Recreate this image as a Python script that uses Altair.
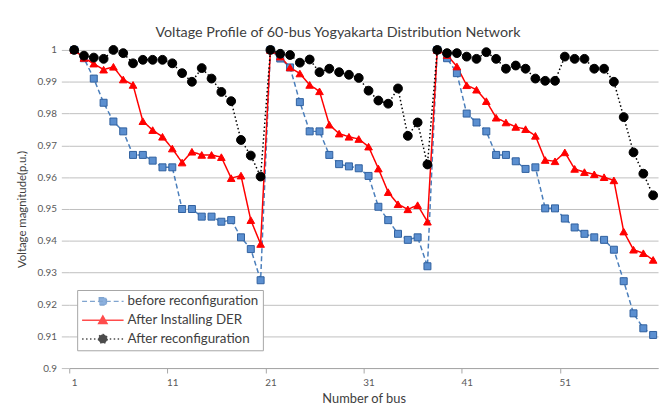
import altair as alt
import pandas as pd

buses = list(range(1, 61))

before = [1.000, 0.9974, 0.991, 0.9834, 0.9775, 0.9744, 0.967, 0.967, 0.9652, 0.9631,
          0.9631, 0.950, 0.950, 0.9476, 0.9476, 0.946, 0.9465, 0.9411, 0.9374, 0.9276,
          1.000, 0.9973, 0.9945, 0.9836, 0.9744, 0.9744, 0.967, 0.9641, 0.9634, 0.9628,
          0.9604, 0.9507, 0.9465, 0.9422, 0.9403, 0.9411, 0.932,
          1.000, 0.9974, 0.9927, 0.980, 0.9772, 0.9744, 0.967, 0.967, 0.965, 0.9626,
          0.9631, 0.9502, 0.9502, 0.947, 0.9442, 0.9422, 0.9411, 0.9403, 0.9372, 0.9273,
          0.9172, 0.9125, 0.9104]

der = [1.000, 0.9975, 0.9957, 0.9938, 0.9947, 0.9907, 0.989, 0.9776, 0.9748, 0.9727,
       0.969, 0.9646, 0.968, 0.967, 0.967, 0.9663, 0.9597, 0.9605, 0.9465, 0.939,
       1.000, 0.9979, 0.9945, 0.9926, 0.989, 0.987, 0.9765, 0.9737, 0.9727, 0.972,
       0.9696, 0.9627, 0.9553, 0.9515, 0.9499, 0.9512, 0.946,
       1.000, 0.9984, 0.9948, 0.9889, 0.9875, 0.9839, 0.9787, 0.9772, 0.9758, 0.9751,
       0.973, 0.9654, 0.965, 0.9678, 0.9626, 0.9616, 0.9609, 0.960, 0.959, 0.9429,
       0.9372, 0.9361, 0.934]

after = [1.000, 0.9982, 0.9976, 0.9972, 1.000, 0.999, 0.9958, 0.9969, 0.9969, 0.9969,
         0.9958, 0.9927, 0.990, 0.9943, 0.991, 0.9868, 0.9839, 0.9717, 0.9668, 0.9602,
         1.000, 0.9988, 0.9984, 0.996, 0.997, 0.993, 0.9941, 0.993, 0.9922, 0.9912,
         0.9872, 0.9841, 0.9831, 0.9879, 0.973, 0.9772, 0.964,
         1.000, 0.999, 0.999, 0.9979, 0.9972, 0.9993, 0.9972, 0.9941, 0.9951, 0.9941,
         0.991, 0.9903, 0.9903, 0.9979, 0.9972, 0.9972, 0.9941, 0.9941, 0.990, 0.9789,
         0.9678, 0.9611, 0.9543]

series_names = ["before reconfiguration", "After Installing DER", "After reconfiguration"]
x_ticks = [1, 11, 21, 31, 41, 51]
y_ticks = [0.9, 0.91, 0.92, 0.93, 0.94, 0.95, 0.96, 0.97, 0.98, 0.99, 1.0]

rows = []
for name, vals in zip(series_names, [before, der, after]):
    for b, v in zip(buses, vals):
        rows.append({"bus": b, "v": v, "series": name})
df = pd.DataFrame(rows)

line_colors = ["#4A7EBB", "#FF0000", "#000000"]
dashes = [[5, 3], [1, 0], [1.5, 2.5]]
marker_shapes = ["square", "triangle-up", "circle"]
marker_fills = ["#5B8FD0", "#FF0000", "#000000"]
marker_strokes = ["#2F5F9E", "#FF0000", "#000000"]
marker_sizes = [50, 60, 80]
# legend glyphs: a line through a marker (unit box [-1, 1])
legend_glyphs = [
    "M-1,0H1M-0.17,-0.17H0.17V0.17H-0.17Z",
    "M-1,0H1M0,-0.2L0.2,0.16L-0.2,0.16Z",
    "M-1,0H1M0.21,0A0.21,0.21 0 1,1 -0.21,0A0.21,0.21 0 1,1 0.21,0Z",
]

FONT = "Lato"

x = alt.X("bus:Q",
          scale=alt.Scale(domain=[0.5, 60.5], nice=False, zero=False),
          axis=alt.Axis(values=x_ticks, format="d", title="Number of bus", grid=False,
                        domainColor="#a6a6a6", tickColor="#a6a6a6", tickSize=5,
                        tickOffset=-5, labelOffset=5, labelPadding=5,
                        labelFont=FONT, labelFontSize=10, labelColor="#595959",
                        titleFont=FONT, titleFontSize=13, titleFontWeight="normal",
                        titleColor="#404040", titlePadding=5))
y = alt.Y("v:Q",
          scale=alt.Scale(domain=[0.9, 1.0], nice=False, zero=False),
          axis=alt.Axis(values=y_ticks, format=".2~f", title="Voltage magnitude(p.u.)",
                        grid=True, gridColor="#bfbfbf", domain=False,
                        tickSize=8, tickColor="#bfbfbf", labelPadding=5,
                        labelFont=FONT, labelFontSize=10, labelColor="#595959",
                        titleFont=FONT, titleFontSize=11.5, titleFontWeight="normal",
                        titleColor="#404040", titlePadding=10))

leg = alt.Legend(title=None, orient="none", legendX=8, legendY=243,
                 symbolSize=1764, symbolStrokeWidth=1.5,
                 symbolFillColor="#ffffff", symbolStrokeColor="#000000",
                 labelFont=FONT, labelFontSize=13.5, labelColor="#404040",
                 fillColor="white", strokeColor="#a6a6a6", padding=4,
                 clipHeight=15, rowPadding=4, labelOffset=3)

stroke_scale = alt.Scale(domain=series_names, range=line_colors)
dash_scale = alt.Scale(domain=series_names, range=dashes)

base = alt.Chart(df)

# zero-size points: they only carry the legend (line + marker glyphs)
legend_layer = base.mark_point(filled=True, size=0).encode(
    x=x, y=y,
    fill=alt.Fill("series:N", scale=alt.Scale(domain=series_names, range=marker_fills), legend=leg),
    stroke=alt.Stroke("series:N", scale=stroke_scale, legend=leg),
    shape=alt.Shape("series:N", scale=alt.Scale(domain=series_names, range=legend_glyphs), legend=leg),
    strokeDash=alt.StrokeDash("series:N", scale=dash_scale, legend=leg),
)

lines = base.mark_line(strokeWidth=1.5).encode(
    x=x, y=y,
    stroke=alt.Stroke("series:N", scale=stroke_scale, legend=leg),
    strokeDash=alt.StrokeDash("series:N", scale=dash_scale, legend=leg),
)

point_layers = []
for name, shp, fc, sc, sz in zip(series_names, marker_shapes, marker_fills, marker_strokes, marker_sizes):
    point_layers.append(
        base.transform_filter(alt.datum.series == name).mark_point(
            shape=shp, filled=True, fill=fc, stroke=sc, strokeWidth=1, size=sz, opacity=1
        ).encode(x=x, y=y)
    )

chart = alt.layer(legend_layer, lines, *point_layers).properties(
    width=596, height=322,
    autosize=alt.AutoSizeParams(type="none"),
    padding={"left": 62, "top": 40, "right": 4, "bottom": 40},
    title=alt.TitleParams("Voltage Profile  of 60-bus Yogyakarta Distribution Network",
                          font=FONT, fontSize=14.5, fontWeight="normal", color="#404040",
                          anchor="middle", dx=-26, dy=4, offset=7),
    background="white",
).configure_view(stroke=None)

chart.save("out.html", embed_options={"renderer": "svg", "actions": False})
